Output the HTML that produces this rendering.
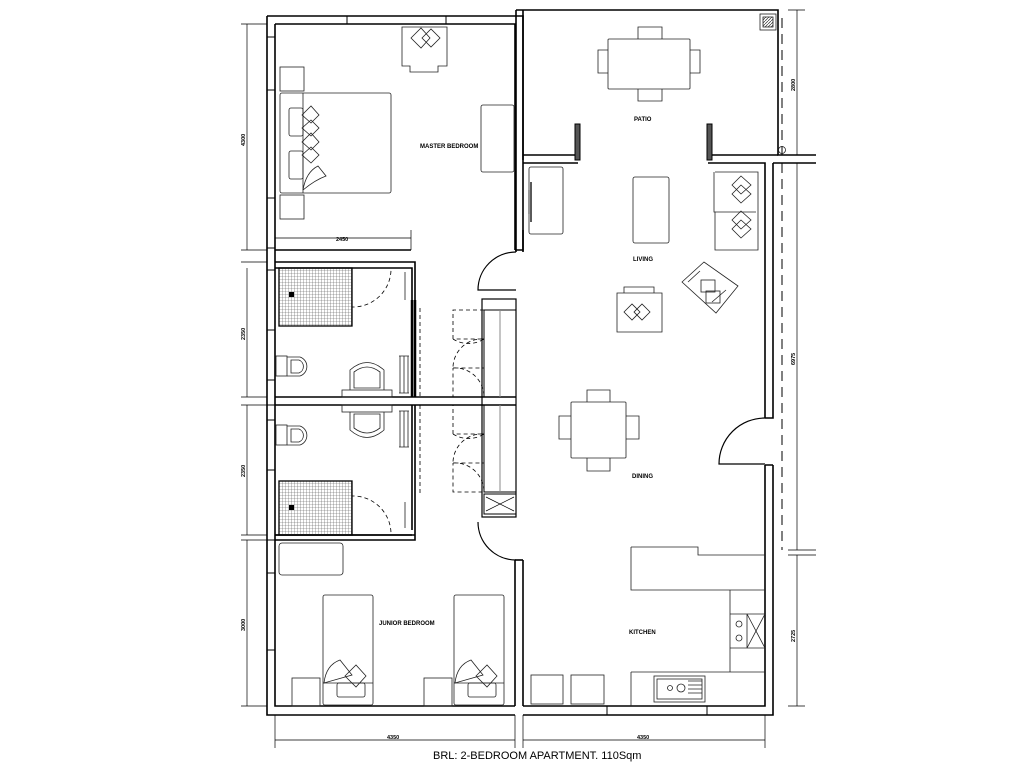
<!DOCTYPE html>
<html><head><meta charset="utf-8"><style>
html,body{margin:0;padding:0;background:#fff;}
svg{display:block;}
text{font-family:"Liberation Sans",sans-serif;fill:#000;}
</style></head><body>
<svg width="1024" height="768" viewBox="0 0 1024 768" xmlns="http://www.w3.org/2000/svg">
<defs>
<pattern id="grid" width="3" height="3" patternUnits="userSpaceOnUse"><path d="M0 0H3M0 0V3" stroke="#555" stroke-width="0.6" fill="none"/></pattern>
<pattern id="hatch" width="3" height="3" patternUnits="userSpaceOnUse"><path d="M0 3L3 0" stroke="#333" stroke-width="0.7"/></pattern>
</defs>
<g fill="none" stroke="#000" stroke-width="1.6">
<path d="M267 16H523V250"/>
<path d="M275 24H515V250"/>
<path d="M267 16V715H515"/>
<path d="M275 24V706H515"/>
<path d="M347 16V24M446 16V24" stroke-width="1"/>
<path d="M267 37H275M267 90H275M267 198H275M267 248H275M267 270H275M267 330H275M267 380H275M267 405H275M267 420H275M267 470H275M267 540H275M267 573H275M267 650H275" stroke-width="1"/>
<path d="M275 250H411M275 262H415V300M275 268H412V300"/>
<path d="M415 300V397M412 300V397" stroke-width="2.5"/>
<path d="M275 397H516M275 405H516"/>
<path d="M415 405V535H275M412 405V530M275 540H415V535"/>
<path d="M275 535H412" />
<path d="M515 560V706M523 560V706"/>
<path d="M515 250H523V230" />
<path d="M515 560H523"/>
<path d="M516 10H778V155H816"/>
<path d="M516 10V250M523 10V160"/>
<path d="M523 155H578M523 163H578M708 155H778M708 163H765V418M773 163V418H765M816 163H773"/>
<path d="M765 465V706H523M773 465V715H523M765 465H773"/>
<path d="M607 706V715M707 706V715" stroke-width="1"/>
<rect x="575" y="124" width="5" height="36" fill="#555" stroke-width="1"/>
<rect x="707" y="124" width="5" height="36" fill="#555" stroke-width="1"/>
<path d="M516 250V252M523 250V252"/>
<path d="M516 252A38 38 0 0 0 478 290H516" stroke-width="1.2"/>
<path d="M516 560A38 38 0 0 1 478 522" stroke-width="1.2"/>
<path d="M765 418A46 46 0 0 0 719 464H765" stroke-width="1.2"/>
<rect x="482" y="299" width="34" height="218" stroke-width="1.2"/>
<rect x="484" y="310" width="32" height="87" stroke-width="1"/>
<rect x="484" y="405" width="32" height="87" stroke-width="1"/>
<rect x="484" y="494" width="32" height="20" stroke-width="1"/>
<path d="M486 497L514 511M514 497L486 511" stroke-width="0.7"/>
<path d="M500 310V397M500 405V492" stroke="#888" stroke-width="1"/>
</g>
<g fill="none" stroke="#000" stroke-width="0.8" stroke-dasharray="4,3">
<path d="M484 310H453V339M453 339A29 29 0 0 0 484 339H453M484 339A29 29 0 0 0 453 368H484M453 368A29 29 0 0 1 484 397H453V368"/>
<path d="M484 405H453V434M453 434A29 29 0 0 0 484 434H453M484 434A29 29 0 0 0 453 463H484M453 463A29 29 0 0 1 484 492H453V463"/>
<path d="M420 308V397M420 405V495" />
<path d="M352 268H391A38 38 0 0 1 352 307M352 535H391A38 38 0 0 0 352 496"/>
<path d="M782 18V155M782 163V550" stroke-dasharray="10,6" stroke-width="1"/>
</g>
<rect x="279" y="268" width="73" height="58" fill="url(#grid)" stroke="#000" stroke-width="1.3"/>
<rect x="279" y="481" width="73" height="54" fill="url(#grid)" stroke="#000" stroke-width="1.3"/>
<rect x="289" y="292" width="5" height="5" fill="#000"/>
<rect x="289" y="505" width="5" height="5" fill="#000"/>
<g fill="none" stroke="#222" stroke-width="0.8">
<rect x="276" y="356" width="11" height="20"/><path d="M287 357H300A10 10 0 0 1 300 376H287"/><path d="M291 360H299A7 7 0 0 1 299 373H291Z"/>
<rect x="276" y="425" width="11" height="20"/><path d="M287 426H300A10 10 0 0 1 300 445H287"/><path d="M291 429H299A7 7 0 0 1 299 442H291Z"/>
<rect x="342" y="390" width="50" height="7"/><path d="M350 390V370Q367 355 384 370V390"/><path d="M354 388V372Q367 362 380 372V388Z"/>
<rect x="342" y="405" width="50" height="7"/><path d="M350 412V430Q367 445 384 430V412"/><path d="M354 414V428Q367 438 380 428V414Z"/>
<path d="M399 356H409M399 393H409M400 356V393M404 356V393M408 356V393"/>
<path d="M399 411H409M399 447H409M400 411V447M404 411V447M408 411V447"/>
<path d="M405 272V300M405 502V528"/>
<path d="M402 27H447V66H438V72H410V66H402Z"/>
<path d="M411 38L421 28L430 38L421 48ZM422 38L431 29L440 38L431 47Z"/>
<rect x="280" y="67" width="24" height="24"/><rect x="280" y="195" width="24" height="24"/>
<rect x="280" y="93" width="111" height="100" rx="2"/><path d="M303 93V193"/>
<rect x="289" y="108" width="14" height="28" rx="2"/><rect x="289" y="151" width="14" height="28" rx="2"/>
<path d="M302 115L311 106L319 115L311 123ZM302 128L311 120L319 128L311 136ZM302 142L311 133L319 142L311 150ZM302 155L311 147L319 155L311 163ZM303 190Q306 172 318 166L326 176Q315 180 303 190"/>
<rect x="481" y="105" width="33" height="67" rx="2"/>
<rect x="608" y="39" width="82" height="50" rx="1"/>
<path d="M638 39V27H662V39M638 89V101H662V89M608 50H598V73H608M690 50H700V73H690"/>
<rect x="760" y="14" width="16" height="16"/>
<rect x="763" y="17" width="10" height="10" fill="url(#hatch)"/>
<circle cx="782" cy="150" r="3.5"/>
<rect x="529" y="167" width="34" height="67" rx="2"/><path d="M531 182V222" stroke-width="1.5"/><path d="M529 190V214"/>
<rect x="633" y="177" width="36" height="66" rx="2"/>
<path d="M715 172H758V250H715V212H714V172"/><path d="M715 212H756"/>
<path d="M732 185L741 176L751 185L741 194ZM732 194L741 185L751 194L741 203ZM732 220L741 211L751 220L741 229ZM732 229L741 220L751 229L741 238Z"/>
<path d="M617 293H662V332H617Z"/><path d="M624 293V287H654V293"/>
<path d="M624 312L632 304L640 312L632 320ZM634 312L642 304L650 312L642 320Z"/>
<path d="M682 282L704 262L738 286L716 313Z"/><path d="M688 282L700 271M712 302L726 290"/>
<rect x="701" y="280" width="14" height="12"/><rect x="706" y="291" width="14" height="12"/>
<rect x="571" y="402" width="55" height="56" rx="1"/>
<path d="M587 402V390H610V402M587 458V471H610V458M571 416H559V439H571M626 416H639V439H626"/>
<path d="M631 547H698V555H765M631 547V590H730V672M730 590H765M730 614H765M730 648H765M631 672H765M631 672V706"/>
<path d="M747 614V648M747 614L765 648M765 614L747 648"/>
<circle cx="739" cy="624" r="3"/><circle cx="739" cy="638" r="3"/>
<rect x="654" y="676" width="51" height="26"/><rect x="657" y="679" width="45" height="20"/>
<circle cx="670" cy="688" r="2.5"/><circle cx="681" cy="688" r="4"/><path d="M688 681H702M688 685H702M688 689H702M688 693H702"/>
<rect x="531" y="675" width="32" height="29"/><rect x="571" y="675" width="33" height="29"/>
<rect x="279" y="543" width="64" height="32" rx="3"/>
<rect x="323" y="595" width="50" height="110" rx="2"/><path d="M323 683H373"/><rect x="337" y="683" width="28" height="14" rx="2"/>
<path d="M324 683Q326 665 340 660L352 675Z"/><path d="M345 676L356 665L366 676L356 687Z"/>
<rect x="292" y="678" width="28" height="28"/>
<rect x="454" y="595" width="50" height="110" rx="2"/><path d="M454 683H504"/><rect x="468" y="683" width="28" height="14" rx="2"/>
<path d="M455 683Q457 665 471 660L483 675Z"/><path d="M476 676L487 665L497 676L487 687Z"/>
<rect x="424" y="678" width="28" height="28"/>
</g>
<g fill="none" stroke="#000" stroke-width="0.7">
<path d="M247 24V250M241 24H267M241 250H267M247 268V397M241 262H267M241 397H267M247 405V535M241 405H267M241 535H267M247 540V706M241 540H267M241 706H267"/>
<path d="M275 238H411M411 230V250"/>
<path d="M275 740H515M523 740H765M275 715V748M515 715V748M523 715V748M765 715V748"/>
<path d="M797 10V155M797 163V550M797 555V706M788 10H805M788 155H816M788 163H816M788 550H816M788 555H816M788 706H805"/>
</g>
<g font-size="5.5" font-weight="bold">
<text x="420" y="148" font-size="6">MASTER BEDROOM</text>
<text x="634" y="121" font-size="6">PATIO</text>
<text x="633" y="261" font-size="6">LIVING</text>
<text x="632" y="478" font-size="6">DINING</text>
<text x="629" y="634" font-size="6">KITCHEN</text>
<text x="379" y="625" font-size="6">JUNIOR BEDROOM</text>
<text x="336" y="241">2450</text>
<text x="387" y="739">4350</text>
<text x="637" y="739">4350</text>
<text transform="translate(245 146) rotate(-90)">4300</text>
<text transform="translate(245 340) rotate(-90)">2350</text>
<text transform="translate(245 477) rotate(-90)">2350</text>
<text transform="translate(245 631) rotate(-90)">3000</text>
<text transform="translate(795 91) rotate(-90)">2800</text>
<text transform="translate(795 365) rotate(-90)">6975</text>
<text transform="translate(795 642) rotate(-90)">2725</text>
</g>
<text x="433" y="759" font-size="11">BRL: 2-BEDROOM APARTMENT.  110Sqm</text>
</svg>
</body></html>
